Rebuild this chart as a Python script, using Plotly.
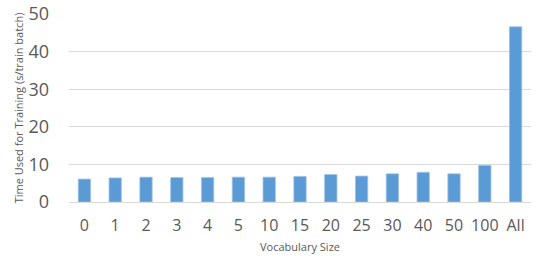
import plotly.graph_objects as go

categories = ["0", "1", "2", "3", "4", "5", "10", "15", "20", "25", "30", "40", "50", "100", "All"]
times = [6.1, 6.4, 6.6, 6.5, 6.5, 6.6, 6.6, 6.8, 7.3, 6.9, 7.5, 7.9, 7.5, 9.75, 46.6]
y_ticks = [0, 10, 20, 30, 40, 50]

fig = go.Figure(go.Bar(
    x=categories, y=times,
    marker=dict(color="#5B9BD5", line=dict(color="#9DC3E6", width=0.8)),
))

font_family = "Open Sans, Liberation Sans, sans-serif"
fig.update_layout(
    width=538, height=265,
    margin=dict(l=69, r=7, t=14, b=63, autoexpand=False),
    paper_bgcolor="white", plot_bgcolor="white",
    bargap=0.6,
    showlegend=False,
    font=dict(family=font_family, color="#595959"),
)
fig.update_xaxes(
    type="category", automargin=False,
    tickfont=dict(size=16, color="#595959"),
    ticklabelstandoff=12,
    showgrid=False, showline=False, zeroline=False,
    title=dict(text="Vocabulary Size", font=dict(size=11, color="#595959"), standoff=8),
)
fig.update_yaxes(
    range=[0, 50], tickvals=y_ticks, automargin=False,
    tickfont=dict(size=18, color="#595959"),
    ticklabelstandoff=19,
    showgrid=True, gridcolor="#D9D9D9", gridwidth=1,
    zeroline=True, zerolinecolor="#D9D9D9", zerolinewidth=1,
    showline=False,
    title=dict(text="Time Used for Training (s/train batch)", font=dict(size=11, color="#595959"), standoff=2),
)
fig.write_html(
    "out.html",
    config={"displayModeBar": False},
    post_script="document.body.style.margin='0';document.body.style.overflow='hidden';",
)
